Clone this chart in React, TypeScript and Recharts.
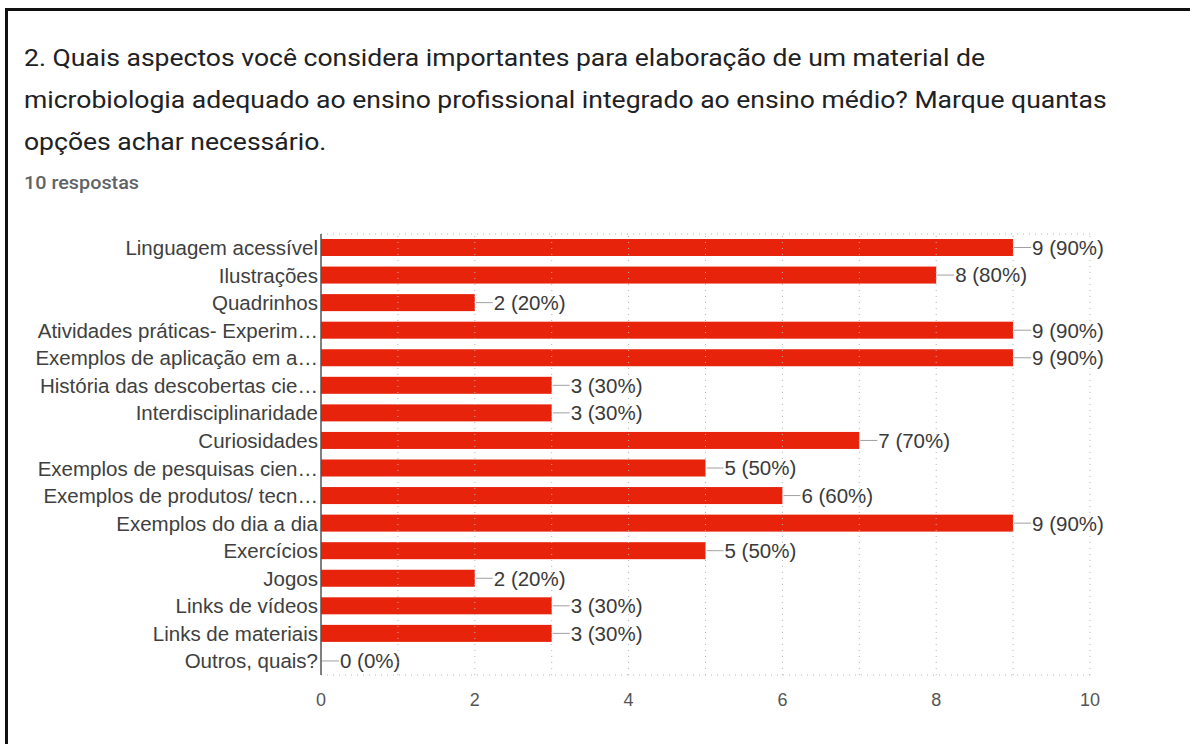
import React from "react";
import { BarChart, Bar, XAxis, YAxis, CartesianGrid, ReferenceLine } from "recharts";

const categorias = [
  "Linguagem acessível",
  "Ilustrações",
  "Quadrinhos",
  "Atividades práticas- Experim…",
  "Exemplos de aplicação em a…",
  "História das descobertas cie…",
  "Interdisciplinaridade",
  "Curiosidades",
  "Exemplos de pesquisas cien…",
  "Exemplos de produtos/ tecn…",
  "Exemplos do dia a dia",
  "Exercícios",
  "Jogos",
  "Links de vídeos",
  "Links de materiais",
  "Outros, quais?",
];
const respostas = [9, 8, 2, 9, 9, 3, 3, 7, 5, 6, 9, 5, 2, 3, 3, 0];
const totalRespostas = 10;
const xTicks = [0, 2, 4, 6, 8, 10];
const gridX = [1, 2, 3, 4, 5, 6, 7, 8, 9, 10];

const data = categorias.map((categoria, i) => ({ categoria, valor: respostas[i] }));

const fonteLabel = "'Liberation Sans', Arial, sans-serif";

// barra + linha guia + rótulo "n (pct%)" (também para valor 0)
const BarraComRotulo = (props: any) => {
  const { x, y, width, height, payload } = props;
  const valor = payload ? payload.valor : props.value;
  const w = Math.max(0, Number(width) || 0);
  const x0 = Number(x) + w;
  const cy = Number(y) + Number(height) / 2;
  const pct = Math.round((Number(valor) / totalRespostas) * 100);
  return (
    <g>
      {w > 0 && <rect x={x} y={y} width={w} height={height} fill="#e8230c" />}
      <line x1={x0 + 1} x2={x0 + 18} y1={cy} y2={cy} stroke="#a0a0a0" strokeWidth={1} />
      <text x={x0 + 19} y={cy} dy="0.36em" fontSize={20.5} fill="#3a3a3a" fontFamily={fonteLabel}>
        {`${valor} (${pct}%)`}
      </text>
    </g>
  );
};

export default function App() {
  return (
    <div style={{ position: "absolute", left: 0, top: 0, width: 1190, height: 744, background: "#fff", overflow: "hidden" }}>
      <div
        style={{
          position: "absolute",
          left: 5,
          top: 8,
          right: -10,
          bottom: -10,
          borderLeft: "3px solid #111",
          borderTop: "3px solid #111",
        }}
      />
      <div
        style={{
          position: "absolute",
          left: 24,
          top: 37,
          width: 1100,
          fontFamily: "Roboto, sans-serif",
          fontSize: 24,
          lineHeight: "42px",
          color: "#202124",
          whiteSpace: "nowrap",
          transform: "scaleX(1.105)",
          transformOrigin: "left top",
        }}
      >
        2. Quais aspectos você considera importantes para elaboração de um material de
        <br />
        microbiologia adequado ao ensino profissional integrado ao ensino médio? Marque quantas
        <br />
        opções achar necessário.
      </div>
      <div
        style={{
          position: "absolute",
          left: 24,
          top: 172,
          fontFamily: "Roboto, sans-serif",
          fontSize: 18,
          fontWeight: 500,
          color: "#5f6368",
          whiteSpace: "nowrap",
          transform: "scaleX(1.1)",
          transformOrigin: "left top",
        }}
      >
        10 respostas
      </div>
      <div style={{ position: "absolute", left: 0, top: 0 }}>
        <BarChart
          width={1190}
          height={744}
          data={data}
          layout="vertical"
          margin={{ top: 234, right: 100, bottom: 34, left: 0 }}
        >
          <CartesianGrid
            vertical={false}
            stroke="#b5b5b5"
            strokeDasharray="1 5"
            horizontalCoordinatesGenerator={({ offset }: any) => [offset.top, offset.top + offset.height]}
          />
          {gridX.map((v) => (
            <ReferenceLine key={v} x={v} stroke="#b5b5b5" strokeDasharray="1 5" />
          ))}
          <XAxis
            type="number"
            domain={[0, 10]}
            ticks={xTicks}
            axisLine={false}
            tickLine={false}
            height={35}
            tickMargin={12}
            tick={{ fontSize: 18, fill: "#555", fontFamily: fonteLabel }}
          />
          <YAxis
            type="category"
            dataKey="categoria"
            width={321}
            interval={0}
            tickLine={false}
            tickSize={0}
            tickMargin={3}
            axisLine={{ stroke: "#555", strokeWidth: 1.5 }}
            tick={{ fontSize: 20.5, fill: "#404040", fontFamily: fonteLabel }}
          />
          <Bar
            dataKey="valor"
            fill="#e8230c"
            barSize={17}
            isAnimationActive={false}
            shape={<BarraComRotulo />}
          />
        </BarChart>
      </div>
    </div>
  );
}
